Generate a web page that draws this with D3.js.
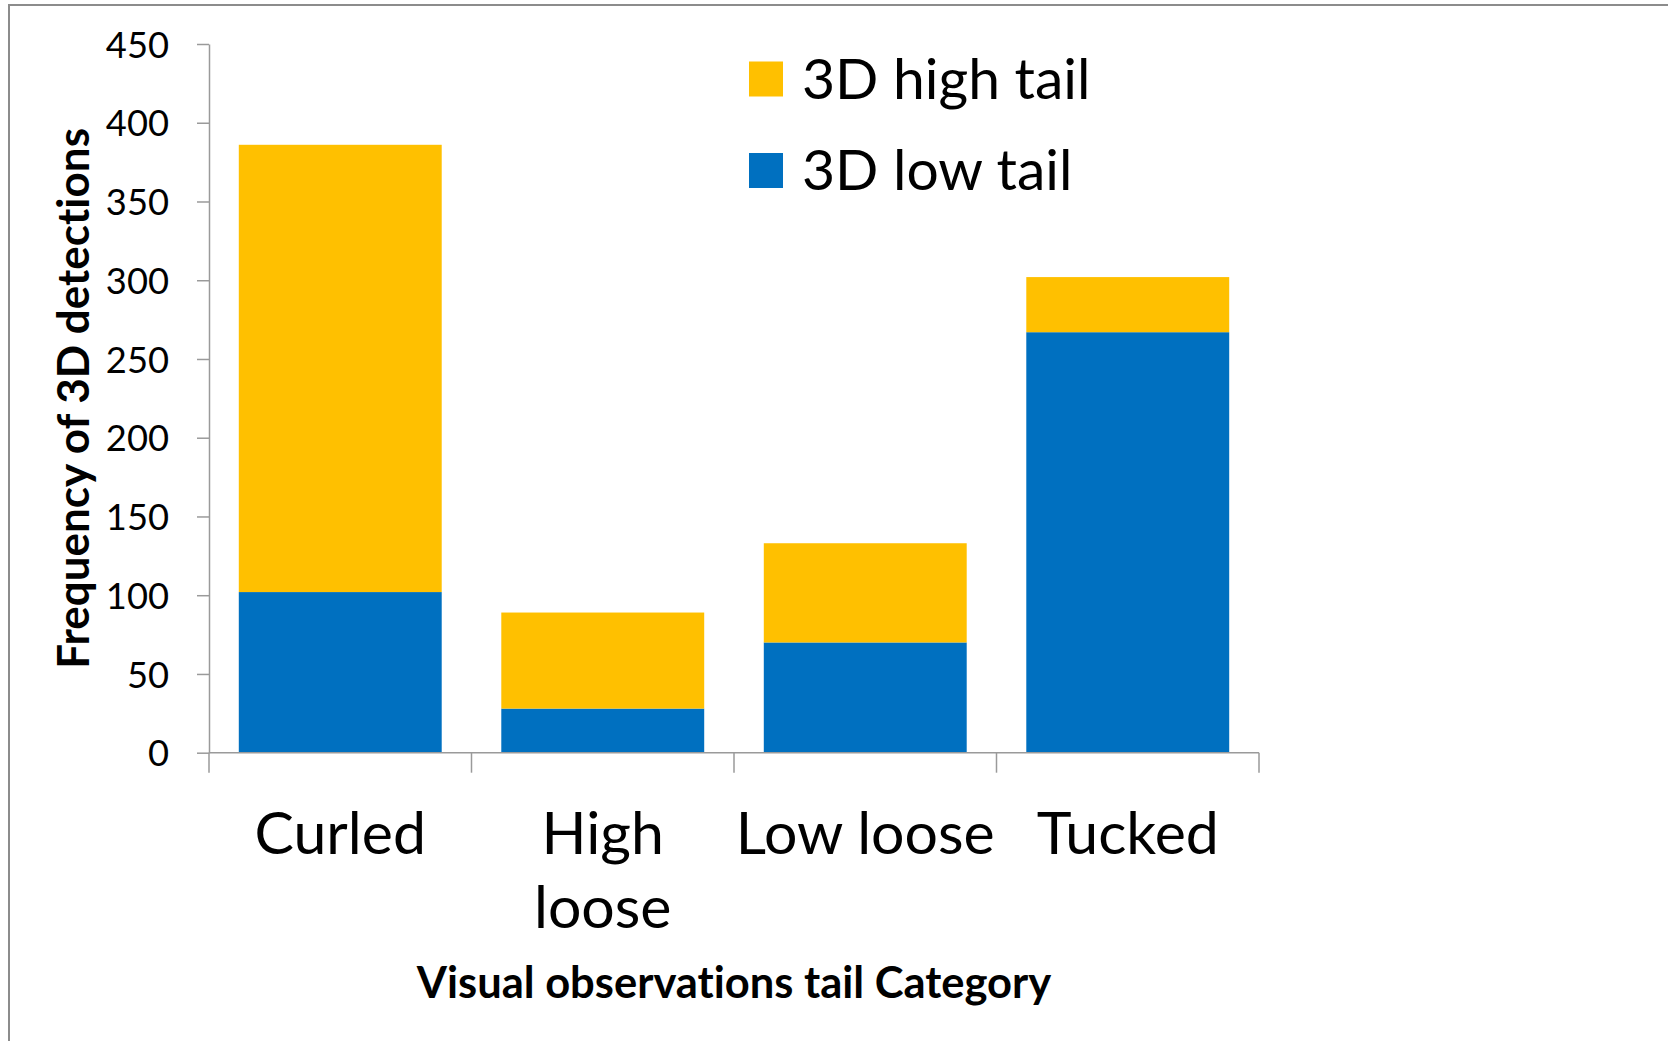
<!DOCTYPE html>
<html>
<head>
<meta charset="utf-8">
<script src="https://cdn.jsdelivr.net/npm/d3@7"></script>
<style>
  html, body { margin: 0; padding: 0; background: #fff; }
  svg { display: block; }
  text { font-family: Lato, "Open Sans", sans-serif; fill: #000; font-variant-ligatures: none; font-feature-settings: "liga" 0; }
</style>
</head>
<body>
<svg id="chart" width="1668" height="1041"></svg>
<script>
// ---- data ----
const categories = ["Curled", "High loose", "Low loose", "Tucked"];
const lowTail  = [102, 28, 70, 267];
const highTail = [284, 61, 63, 35];
const seriesNames = ["3D low tail", "3D high tail"];
const seriesColors = ["#0070C0", "#FFC000"];
const yTicks = [0, 50, 100, 150, 200, 250, 300, 350, 400, 450];
const yTitle = "Frequency of 3D detections";
const xTitle = "Visual observations tail Category";

// ---- layout ----
const svg = d3.select("#chart");
const W = 1668, H = 1041;
const plot = { left: 209, right: 1259, top: 44, bottom: 752.7 };
const axisColor = "#9a9a9a";

// outer frame
svg.append("path")
  .attr("d", `M9,${H} L9,5 L${W},5`)
  .attr("fill", "none").attr("stroke", "#8c8c8c").attr("stroke-width", 2);

const x = d3.scaleBand().domain(categories)
  .range([plot.left, plot.right]).paddingInner(0.227).paddingOuter(0.1135);
const y = d3.scaleLinear().domain([0, 450]).range([plot.bottom, plot.top]);

const table = categories.map((c, i) => ({ cat: c, low: lowTail[i], high: highTail[i] }));
const stack = d3.stack().keys(["low", "high"])(table);

svg.append("g").selectAll("g").data(stack).join("g")
  .attr("fill", (d, i) => seriesColors[i])
  .selectAll("rect").data(d => d).join("rect")
  .attr("x", d => x(d.data.cat))
  .attr("width", x.bandwidth())
  .attr("y", d => y(d[1]))
  .attr("height", d => y(d[0]) - y(d[1]));

// y axis
const yAxis = svg.append("g").attr("transform", `translate(${plot.left},0)`)
  .call(d3.axisLeft(y).tickValues(yTicks).tickSize(12).tickSizeOuter(0).tickPadding(28));
yAxis.select(".domain").attr("stroke", axisColor).attr("stroke-width", 1.5);
yAxis.selectAll(".tick line").attr("stroke", axisColor).attr("stroke-width", 1.5);
yAxis.selectAll(".tick text")
  .attr("font-family", "Lato").attr("font-size", 36.3).attr("fill", "#000")
  .attr("dy", "0.36em");

// x axis: line + boundary ticks
const boundaries = categories.map((c, i) => plot.left + i * x.step());
boundaries.push(plot.right);
const xAxisG = svg.append("g");
xAxisG.append("line")
  .attr("x1", plot.left).attr("x2", plot.right)
  .attr("y1", y(0)).attr("y2", y(0))
  .attr("stroke", axisColor).attr("stroke-width", 1.5);
xAxisG.selectAll("line.tk").data(boundaries).join("line").attr("class", "tk")
  .attr("x1", d => d).attr("x2", d => d)
  .attr("y1", y(0)).attr("y2", y(0) + 20)
  .attr("stroke", axisColor).attr("stroke-width", 1.5);

// category labels (wrapped to fit band)
const catLines = { "High loose": ["High", "loose"] };
const catG = svg.append("g");
categories.forEach(c => {
  const lines = catLines[c] || [c];
  const t = catG.append("text")
    .attr("text-anchor", "middle")
    .attr("font-size", 59)
    .attr("x", x(c) + x.bandwidth() / 2)
    .attr("y", 854);
  lines.forEach((ln, j) => {
    t.append("tspan").attr("x", x(c) + x.bandwidth() / 2)
      .attr("y", 854 + j * 74).text(ln);
  });
});

// axis titles
svg.append("text")
  .attr("x", (plot.left + plot.right) / 2).attr("y", 998)
  .attr("text-anchor", "middle").attr("font-weight", "bold").attr("font-size", 43.5)
  .text(xTitle);
svg.append("text")
  .attr("transform", `translate(89,${(plot.top + plot.bottom) / 2}) rotate(-90)`)
  .attr("text-anchor", "middle").attr("font-weight", "bold").attr("font-size", 44)
  .text(yTitle);

// legend (high tail first, as in reference)
const legendOrder = [1, 0];
const lg = svg.append("g");
legendOrder.forEach((si, k) => {
  const cy = 79 + k * 91.5;
  lg.append("rect").attr("x", 749).attr("y", cy - 17.5)
    .attr("width", 34).attr("height", 35).attr("fill", seriesColors[si]);
  lg.append("text").attr("x", 802).attr("y", cy + 19.5)
    .attr("font-size", 57).text(seriesNames[si]);
});
</script>
</body>
</html>
